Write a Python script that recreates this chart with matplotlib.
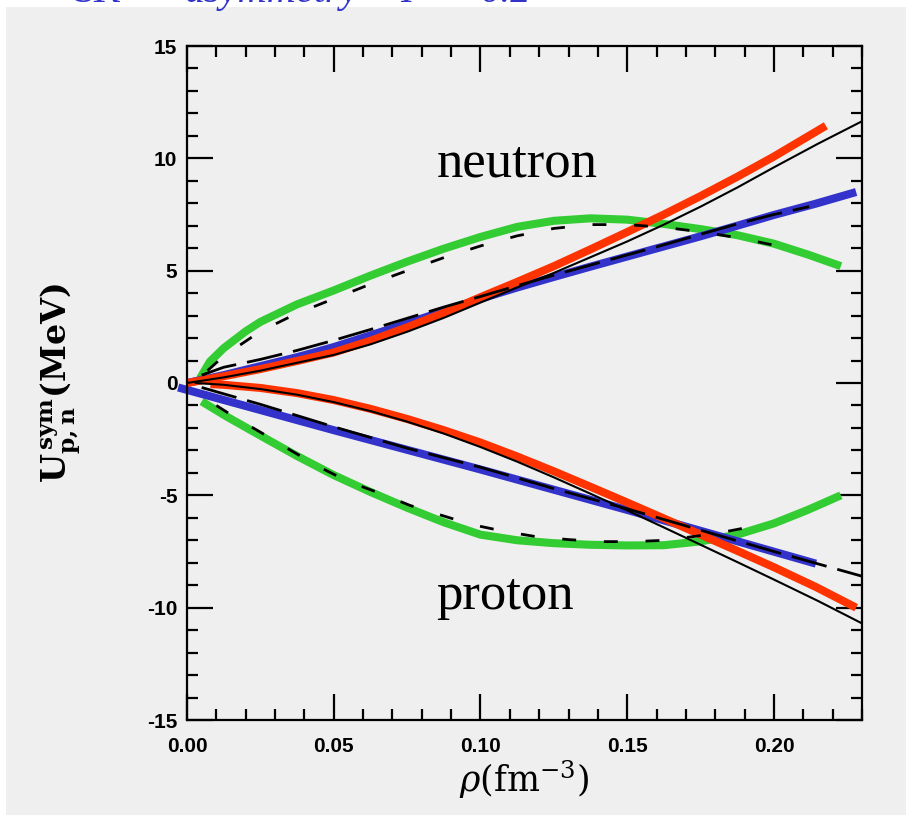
import matplotlib
matplotlib.use("Agg")
import matplotlib.pyplot as plt
from matplotlib.patches import Rectangle
from matplotlib.ticker import MultipleLocator, FormatStrFormatter

plt.rcParams["mathtext.fontset"] = "dejavuserif"

# Symmetry potential U_sym for neutrons (upper branch) and protons (lower branch)
# vs. density rho (fm^-3), asymmetry 0.2

# --- neutron branch ---
rho_n_green = [0.0044, 0.0078, 0.0125, 0.02, 0.025, 0.0375, 0.05, 0.0625, 0.075, 0.0875,
               0.10, 0.1125, 0.125, 0.1375, 0.15, 0.1625, 0.175, 0.1875, 0.20, 0.2115, 0.2228]
u_n_green = [0.2, 0.95, 1.55, 2.3, 2.72, 3.5, 4.12, 4.78, 5.4, 5.98,
             6.5, 6.95, 7.22, 7.33, 7.27, 7.08, 6.85, 6.58, 6.2, 5.72, 5.2]

rho_n_green_ref = [0.007, 0.0125, 0.025, 0.0375, 0.05, 0.0625, 0.075, 0.0875, 0.10,
                   0.1125, 0.125, 0.1375, 0.15, 0.1625, 0.175, 0.1875, 0.205]
u_n_green_ref = [0.55, 1.2, 2.3, 3.1, 3.75, 4.4, 5.0, 5.58, 6.1,
                 6.55, 6.88, 7.05, 7.05, 6.93, 6.73, 6.47, 6.0]

rho_n_red = [0.0, 0.0125, 0.025, 0.0375, 0.05, 0.0625, 0.075, 0.0875, 0.10, 0.1125,
             0.125, 0.1375, 0.15, 0.1625, 0.175, 0.1875, 0.20, 0.2177]
u_n_red = [0.0, 0.3, 0.62, 0.98, 1.36, 1.88, 2.48, 3.12, 3.82, 4.5,
           5.2, 5.95, 6.72, 7.5, 8.32, 9.18, 10.08, 11.45]

rho_n_red_ref = [0.0, 0.0125, 0.025, 0.0375, 0.05, 0.0625, 0.075, 0.0875, 0.10, 0.1125,
                 0.125, 0.1375, 0.15, 0.1625, 0.175, 0.1875, 0.20, 0.215, 0.23]
u_n_red_ref = [0.0, 0.25, 0.55, 0.9, 1.25, 1.72, 2.28, 2.9, 3.58, 4.25,
               4.9, 5.6, 6.3, 7.05, 7.85, 8.7, 9.6, 10.65, 11.65]

rho_n_blue = [0.0, 0.0125, 0.025, 0.0375, 0.05, 0.0625, 0.075, 0.0875, 0.10, 0.1125,
              0.125, 0.1375, 0.15, 0.1625, 0.175, 0.1875, 0.20, 0.2142, 0.228]
u_n_blue = [0.0, 0.35, 0.75, 1.15, 1.6, 2.12, 2.65, 3.2, 3.75, 4.25,
            4.72, 5.18, 5.63, 6.08, 6.53, 7.0, 7.48, 7.98, 8.5]

rho_n_blue_ref = [0.005, 0.0125, 0.025, 0.0375, 0.05, 0.0625, 0.075, 0.0875, 0.10, 0.1125,
                  0.125, 0.1375, 0.15, 0.1625, 0.175, 0.1875, 0.20, 0.212]
u_n_blue_ref = [0.35, 0.7, 1.05, 1.45, 1.9, 2.38, 2.88, 3.38, 3.85, 4.33,
                4.8, 5.25, 5.7, 6.15, 6.62, 7.08, 7.5, 7.85]

# --- proton branch ---
rho_p_green = [0.005, 0.0136, 0.025, 0.0375, 0.05, 0.0625, 0.075, 0.0875, 0.10, 0.1125,
               0.125, 0.1375, 0.15, 0.1625, 0.175, 0.1875, 0.20, 0.2115, 0.2228]
u_p_green = [-0.82, -1.5, -2.34, -3.25, -4.1, -4.85, -5.55, -6.2, -6.75, -7.0,
             -7.13, -7.2, -7.23, -7.22, -7.05, -6.75, -6.25, -5.65, -5.0]

rho_p_green_ref = [0.01, 0.017, 0.027, 0.036, 0.046, 0.055, 0.066, 0.076, 0.087, 0.097,
                   0.108, 0.119, 0.13, 0.1415, 0.152, 0.163, 0.1745, 0.185, 0.196]
u_p_green_ref = [-1.0, -1.58, -2.34, -3.05, -3.8, -4.39, -4.92, -5.45, -5.9, -6.3,
                 -6.6, -6.84, -6.97, -7.06, -7.06, -7.0, -6.8, -6.58, -6.3]

rho_p_red = [0.008, 0.0125, 0.025, 0.0375, 0.05, 0.0625, 0.075, 0.0875, 0.10, 0.1125,
             0.125, 0.1375, 0.15, 0.1625, 0.175, 0.1875, 0.20, 0.2143, 0.228]
u_p_red = [-0.05, -0.08, -0.22, -0.45, -0.76, -1.15, -1.6, -2.1, -2.65, -3.27,
           -3.93, -4.62, -5.32, -6.03, -6.75, -7.47, -8.2, -9.08, -10.0]

rho_p_red_ref = [0.003, 0.0125, 0.025, 0.0375, 0.05, 0.0625, 0.075, 0.0875, 0.10, 0.1125,
                 0.125, 0.1375, 0.15, 0.1625, 0.175, 0.1875, 0.20, 0.215, 0.23]
u_p_red_ref = [0.0, -0.08, -0.27, -0.52, -0.85, -1.25, -1.72, -2.25, -2.85, -3.5,
               -4.2, -4.93, -5.67, -6.43, -7.2, -7.97, -8.75, -9.7, -10.7]

rho_p_blue = [-0.003, 0.05, 0.10, 0.15, 0.2143]
u_p_blue = [-0.2, -2.1, -3.85, -5.65, -8.04]

rho_p_blue_ref = [0.005, 0.025, 0.05, 0.075, 0.10, 0.125, 0.15, 0.175, 0.20, 0.23]
u_p_blue_ref = [-0.2, -0.95, -1.95, -2.9, -3.75, -4.7, -5.6, -6.55, -7.5, -8.6]

GREEN = "#33cc33"
RED = "#ff3300"
BLUE = "#3333cc"
BG = "#efefef"

fig = plt.figure(figsize=(9.06, 8.15), dpi=100, facecolor=BG)
# white margins at the top and left edges
fig.patches.append(Rectangle((0, 1 - 7 / 815), 1, 7 / 815, transform=fig.transFigure,
                             facecolor="white", edgecolor="none", zorder=0))
fig.patches.append(Rectangle((0, 0), 6 / 906, 1, transform=fig.transFigure,
                             facecolor="white", edgecolor="none", zorder=0))

ax = fig.add_axes([187 / 906, 1 - 720 / 815, 675 / 906, 674 / 815], facecolor=BG)

lw_c = 5.8
kw = dict(lw=lw_c, solid_capstyle="butt", solid_joinstyle="round")
ax.plot(rho_n_green, u_n_green, color=GREEN, **kw)
ax.plot(rho_p_green, u_p_green, color=GREEN, **kw)
ax.plot(rho_n_blue, u_n_blue, color=BLUE, **kw)
ax.plot(rho_p_blue, u_p_blue, color=BLUE, clip_on=False, **kw)
ax.plot(rho_n_red, u_n_red, color=RED, **kw)
ax.plot(rho_p_red, u_p_red, color=RED, **kw)

ax.plot(rho_n_red_ref, u_n_red_ref, color="black", lw=1.5)
ax.plot(rho_p_red_ref, u_p_red_ref, color="black", lw=1.5)
ax.plot(rho_n_blue_ref, u_n_blue_ref, color="black", lw=2.0, dashes=(13, 4))
ax.plot(rho_p_blue_ref, u_p_blue_ref, color="black", lw=2.0, dashes=(13, 4))
ax.plot(rho_n_green_ref, u_n_green_ref, color="black", lw=2.0, dashes=(5, 10))
ax.plot(rho_p_green_ref, u_p_green_ref, color="black", lw=2.0, dashes=(5, 10))

ax.set_xlim(0, 0.23)
ax.set_ylim(-15, 15)
ax.xaxis.set_major_locator(MultipleLocator(0.05))
ax.xaxis.set_minor_locator(MultipleLocator(0.01))
ax.yaxis.set_major_locator(MultipleLocator(5))
ax.yaxis.set_minor_locator(MultipleLocator(1))
ax.xaxis.set_major_formatter(FormatStrFormatter("%.2f"))
ax.yaxis.set_major_formatter(FormatStrFormatter("%d"))

for s in ax.spines.values():
    s.set_linewidth(1.6)
ax.tick_params(which="both", direction="in", top=True, right=True, width=1.6, color="black")
ax.tick_params(which="major", length=19)
ax.tick_params(which="minor", length=8)
ax.tick_params(axis="y", which="major", pad=7)
ax.tick_params(axis="x", which="major", pad=12)
for lab in ax.get_xticklabels() + ax.get_yticklabels():
    lab.set_fontfamily("Liberation Sans")
    lab.set_fontweight("bold")
    lab.set_fontsize(15)

ax.set_xlabel(r"$\rho(\mathrm{fm}^{-3})$", fontsize=25, labelpad=2)
ax.set_ylabel(r"$\mathbf{U_{p,n}^{\,sym}(MeV)}$", fontsize=24, labelpad=46)

ax.text(0.085, 9.2, "neutron", family="Liberation Serif", fontsize=38, va="baseline")
ax.text(0.085, -10.05, "proton", family="Liberation Serif", fontsize=38, va="baseline")

# caption line at the very top of the page
title_kw = dict(color=BLUE, fontsize=29, family="Liberation Serif", style="italic",
                va="baseline", ha="left")
ty = 1 - 2 / 815
fig.text(75 / 906, ty, "SK", **title_kw)
fig.text(185 / 906, ty, "asymmetry", **title_kw)
fig.text(400 / 906, ty, "I", **title_kw)
fig.text(425 / 906, ty, "=", **title_kw)
fig.text(480 / 906, ty, "0.2", **title_kw)

fig.savefig("out.png", dpi=100, facecolor=BG)
